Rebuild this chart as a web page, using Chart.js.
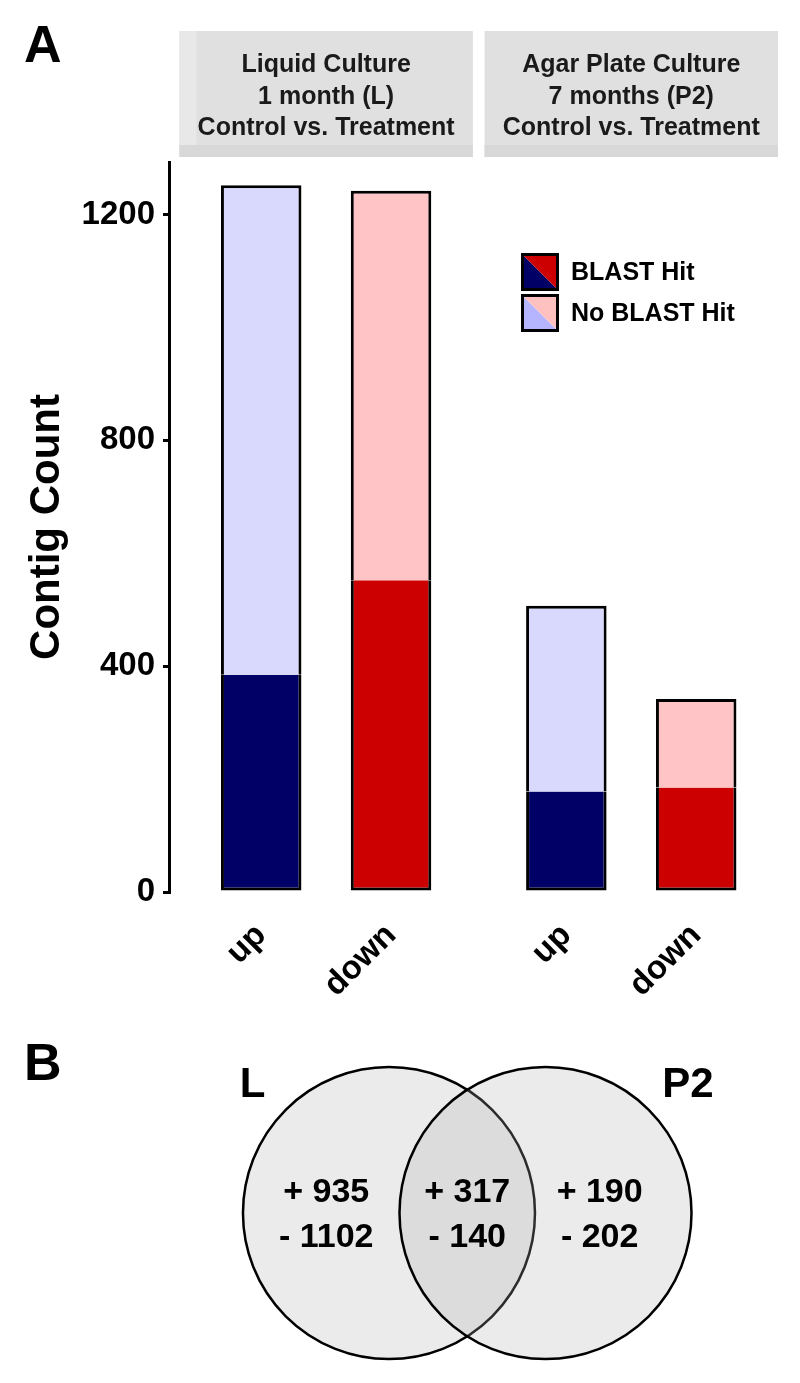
<!DOCTYPE html>
<html>
<head>
<meta charset="utf-8">
<script src="https://cdn.jsdelivr.net/npm/chart.js@4.4.1/dist/chart.umd.min.js"></script>
<style>
html,body{margin:0;padding:0;background:#fff;}
#wrap{position:relative;width:800px;height:1383px;overflow:hidden;}
#c1{position:absolute;left:0;top:0;}
#c2{position:absolute;left:0;top:1000px;}
</style>
</head>
<body>
<div id="wrap">
<canvas id="c1" width="800" height="1000"></canvas>
<canvas id="c2" width="800" height="383"></canvas>
</div>
<script>
// ---------------- DATA ----------------
const panelTitles = [
  ['Liquid Culture', '1 month (L)', 'Control vs. Treatment'],
  ['Agar Plate Culture', '7 months (P2)', 'Control vs. Treatment']
];
const directions = ['up', 'down'];
// order: L up, L down, P2 up, P2 down
const blastHit   = [385, 552, 178, 185];
const noBlastHit = [867, 690, 329, 157];
const yTicks = [0, 400, 800, 1200];
const legendLabels = ['BLAST Hit', 'No BLAST Hit'];

const vennSets  = ['L', 'P2'];
const vennUp    = [935, 317, 190];   // L only, L & P2, P2 only
const vennDown  = [1102, 140, 202];

// ---------------- STYLE / LAYOUT ----------------
const FONT = "'Liberation Sans', Arial, Helvetica, sans-serif";
Chart.defaults.font.family = FONT;
const NAVY = '#000066', RED = '#cc0000', LBLUE = '#d9d9fe', PINK = '#ffc4c6';
const darkCols = [NAVY, RED], lightCols = [LBLUE, PINK];

const EXPAND = 0.63, GAP = 0.09, AXGAP = 0.08;
const PANEL_STEP = 1 + 2 * EXPAND + GAP;
const xPos = [];
const xLabels = [];
panelTitles.forEach((_, p) => directions.forEach((d, c) => { xPos.push(p * PANEL_STEP + c + 1); xLabels.push(d); }));
const panelRange = panelTitles.map((_, p) => [p * PANEL_STEP + 1 - EXPAND, p * PANEL_STEP + 2 + EXPAND]);
const xMin = panelRange[0][0] - AXGAP, xMax = panelRange[panelRange.length - 1][1];

const pts = arr => arr.map((v, i) => ({ x: xPos[i], y: v }));

const stripPlugin = {
  id: 'strips',
  beforeDraw(chart) {
    const ctx = chart.ctx, xs = chart.scales.x;
    ctx.save();
    panelRange.forEach((r, p) => {
      const x0 = xs.getPixelForValue(r[0]), x1 = xs.getPixelForValue(r[1]);
      ctx.fillStyle = '#e0e0e0';
      ctx.fillRect(x0, 31, x1 - x0, 126);
      ctx.fillStyle = '#d8d8d8';
      ctx.fillRect(x0, 145, x1 - x0, 12);
      if (p === 0) { ctx.fillStyle = '#e8e8e8'; ctx.fillRect(x0, 31, 17, 114); }
      ctx.fillStyle = '#1a1a1a';
      ctx.font = 'bold 25px ' + FONT;
      ctx.textAlign = 'center';
      ctx.textBaseline = 'alphabetic';
      const cx = (x0 + x1) / 2;
      panelTitles[p].forEach((t, i) => ctx.fillText(t, cx, 72 + i * 31.7));
    });
    ctx.fillStyle = '#000';
    ctx.font = 'bold 52px ' + FONT;
    ctx.textAlign = 'left';
    ctx.fillText('A', 24, 62);
    ctx.restore();
  },
  afterDraw(chart) {
    const ctx = chart.ctx;
    ctx.save();
    const sq = 38, x0 = 521, ys = [253, 294];
    const cols = [[NAVY, RED], ['#b4b4ff', '#ffc0c0']];
    ys.forEach((y, i) => {
      ctx.fillStyle = cols[i][0];
      ctx.beginPath(); ctx.moveTo(x0, y); ctx.lineTo(x0, y + sq); ctx.lineTo(x0 + sq, y + sq); ctx.closePath(); ctx.fill();
      ctx.fillStyle = cols[i][1];
      ctx.beginPath(); ctx.moveTo(x0, y); ctx.lineTo(x0 + sq, y); ctx.lineTo(x0 + sq, y + sq); ctx.closePath(); ctx.fill();
      ctx.strokeStyle = '#000'; ctx.lineWidth = 3;
      ctx.strokeRect(x0 + 1.5, y + 1.5, sq - 3, sq - 3);
      ctx.fillStyle = '#000';
      ctx.font = 'bold 25px ' + FONT;
      ctx.textAlign = 'left'; ctx.textBaseline = 'middle';
      ctx.fillText(legendLabels[i], 571, y + sq / 2 + 1);
    });
    ctx.restore();
  }
};

new Chart(document.getElementById('c1'), {
  type: 'bar',
  data: {
    datasets: [
      {
        label: legendLabels[0], data: pts(blastHit),
        backgroundColor: c => darkCols[c.dataIndex % 2],
        borderColor: '#000', borderWidth: { top: 0, left: 3, right: 3, bottom: 3 }, borderSkipped: false,
        barPercentage: 0.62, categoryPercentage: 1
      },
      {
        label: legendLabels[1], data: pts(noBlastHit),
        backgroundColor: c => lightCols[c.dataIndex % 2],
        borderColor: '#000', borderWidth: { top: 3, left: 3, right: 3, bottom: 0 }, borderSkipped: false,
        barPercentage: 0.62, categoryPercentage: 1
      }
    ]
  },
  options: {
    responsive: false, animation: false, events: [],
    layout: { padding: { top: 162, right: 22, left: 0, bottom: 0 } },
    plugins: { legend: { display: false }, tooltip: { enabled: false } },
    scales: {
      x: {
        type: 'linear', stacked: true, min: xMin, max: xMax, offset: false,
        grid: { display: false, drawTicks: false }, border: { display: false },
        afterBuildTicks: s => { s.ticks = xPos.map(v => ({ value: v })); },
        ticks: {
          autoSkip: false, minRotation: 45, maxRotation: 45, padding: 24, color: '#000',
          font: { size: 33, weight: 'bold' },
          callback: (v, i) => xLabels[i]
        },
        afterFit: s => { s.height = 108; }
      },
      y: {
        stacked: true, min: 0, max: 1293,
        afterBuildTicks: s => { s.ticks = yTicks.map(v => ({ value: v })); },
        grid: { display: true, drawOnChartArea: false, drawTicks: true, tickLength: 6, color: '#000', lineWidth: 3 },
        border: { display: true, color: '#000', width: 3 },
        ticks: { padding: 8, color: '#000', font: { size: 33, weight: 'bold' }, callback: v => String(v) },
        title: { display: true, text: 'Contig Count', color: '#000', font: { size: 42, weight: 'bold', lineHeight: 1.2 }, padding: { top: 22, bottom: 0 } },
        afterFit: s => { s.width = 169; }
      }
    }
  },
  plugins: [stripPlugin]
});

// ---------------- VENN ----------------
const VENN_SEP = 0.536;               // half distance between circle centres (radius = 1)
const regionX = [-0.966, 0, 0.907];
const setLabelPos = [[-1.47, 0.795], [1.511, 0.795]];
const unitPx = ch => Math.abs(ch.scales.x.getPixelForValue(1) - ch.scales.x.getPixelForValue(0));

const vennText = {
  id: 'vennText',
  afterDatasetsDraw(chart) {
    const ctx = chart.ctx, xs = chart.scales.x, ys = chart.scales.y;
    ctx.save();
    ctx.fillStyle = '#000';
    ctx.textBaseline = 'alphabetic';
    ctx.textAlign = 'left';
    ctx.font = 'bold 52px ' + FONT;
    ctx.fillText('B', 24, 80);
    ctx.textAlign = 'center';
    ctx.font = 'bold 42px ' + FONT;
    vennSets.forEach((s, i) => ctx.fillText(s, xs.getPixelForValue(setLabelPos[i][0]), ys.getPixelForValue(setLabelPos[i][1])));
    ctx.font = 'bold 34px ' + FONT;
    regionX.forEach((rx, i) => {
      const px = xs.getPixelForValue(rx);
      ctx.fillText('+ ' + vennUp[i], px, ys.getPixelForValue(0.075));
      ctx.fillText('- ' + vennDown[i], px, ys.getPixelForValue(-0.233));
    });
    ctx.restore();
  }
};

new Chart(document.getElementById('c2'), {
  type: 'scatter',
  data: {
    datasets: [{
      label: 'sets',
      data: vennSets.map((s, i) => ({ x: (i === 0 ? -1 : 1) * VENN_SEP, y: 0 })),
      showLine: false,
      pointBackgroundColor: 'rgba(175,175,175,0.25)',
      pointBorderColor: '#000', pointBorderWidth: 2.5,
      pointRadius: c => unitPx(c.chart), pointHoverRadius: c => unitPx(c.chart),
      clip: false
    }]
  },
  options: {
    responsive: false, animation: false, events: [],
    layout: { padding: 0 },
    plugins: { legend: { display: false }, tooltip: { enabled: false } },
    scales: {
      x: { type: 'linear', min: -3.2, max: 2.279, display: false },
      y: { type: 'linear', min: -1.164, max: 1.459, display: false }
    }
  },
  plugins: [vennText]
});
</script>
</body>
</html>
